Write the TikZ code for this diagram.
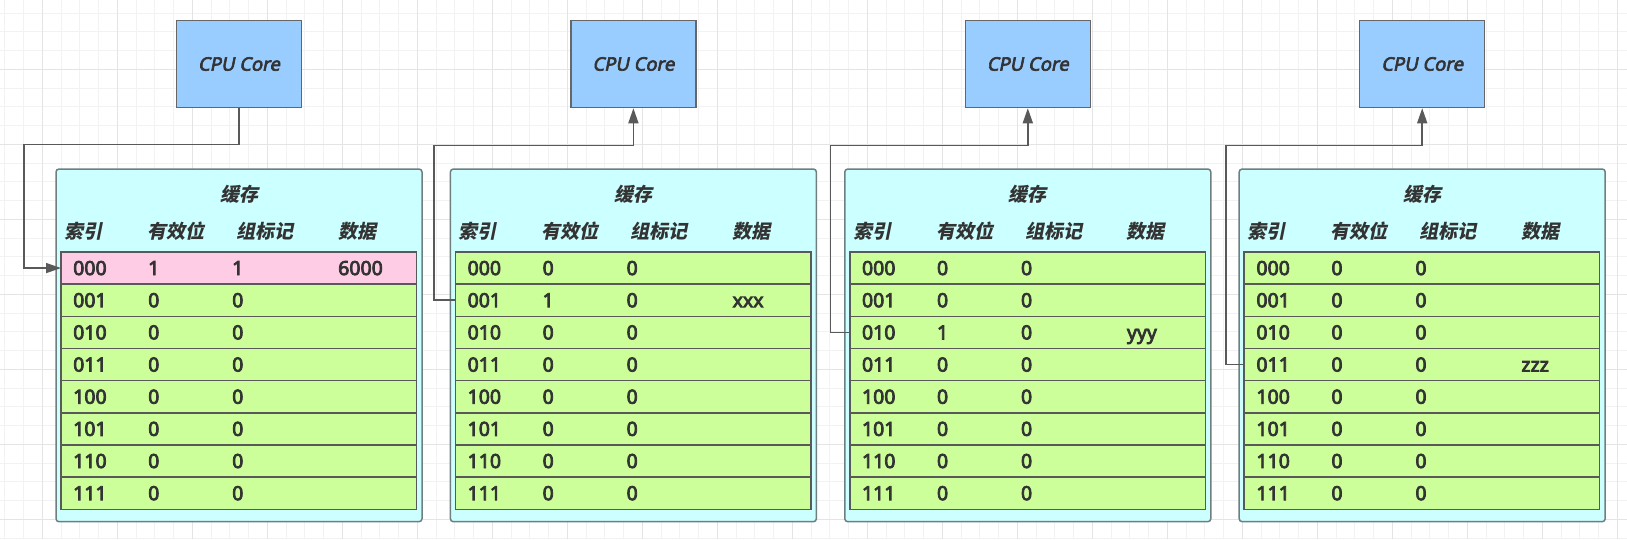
\documentclass[tikz,border=0pt]{standalone}
\usepackage{fontspec}
\setmainfont{Noto Sans}
\newfontfamily\cellface[FakeBold=4]{Noto Sans}
\newfontfamily\coreface[FakeBold=3.5, FakeSlant=0.2]{Noto Sans}
\newfontfamily\cjk[FakeSlant=0.2]{Noto Sans CJK SC}
\usepackage{tikz}
\usetikzlibrary{positioning, arrows.meta, calc}
\definecolor{gridMinor}{HTML}{F2F2F2}
\definecolor{gridMajor}{HTML}{E4E4E4}
\definecolor{coreFill}{HTML}{99CCFF}
\definecolor{cacheFill}{HTML}{CCFFFF}
\definecolor{cacheEdge}{HTML}{6F7F80}
\definecolor{lineFill}{HTML}{CCFF99}
\definecolor{hitFill}{HTML}{FFCCE6}
\definecolor{ink}{HTML}{333333}
\tikzstyle{core}=[draw=black!60, fill=coreFill, line width=1.5pt, inner sep=0pt,
  minimum width=125pt, minimum height=87pt, text=ink,
  font=\coreface\fontsize{18.5}{20}\selectfont]
\tikzstyle{cacheBox}=[draw=cacheEdge, fill=cacheFill, line width=1.5pt, rounded corners=3pt,
  minimum width=366pt, minimum height=352.7pt, inner sep=0pt]
\tikzstyle{cacheLine}=[draw=black!65, line width=1.5pt, inner sep=0pt, outer sep=0pt,
  minimum width=355.5pt, minimum height=32.16pt]
\tikzstyle{cell}=[anchor=base west, inner sep=0pt, text=ink,
  font=\cellface\fontsize{19.5}{20}\selectfont]
\tikzstyle{head}=[inner sep=0pt, text=ink, font=\cjk\bfseries\fontsize{19}{20}\selectfont]
\tikzstyle{link}=[-{Triangle[length=15pt,width=10pt]}, line width=1.5pt, draw=black!65]
\begin{document}
\begin{tikzpicture}[x=1pt, y=-1pt]
  \useasboundingbox (0,0) rectangle (1627,539);
  \fill[white] (0,0) rectangle (1627,539);
  % background grid
  \foreach \i in {0,...,86}
    \draw[gridMinor, line width=1pt] ({4.8+18.75*\i},0) -- ({4.8+18.75*\i},539);
  \foreach \j in {0,...,28}
    \draw[gridMinor, line width=1pt] (0,{13.05+18.75*\j}) -- (1627,{13.05+18.75*\j});
  \foreach \i in {0,...,21}
    \draw[gridMajor, line width=1pt] ({42.3+75*\i},0) -- ({42.3+75*\i},539);
  \foreach \j in {0,...,6}
    \draw[gridMajor, line width=1pt] (0,{69.3+75*\j}) -- (1627,{69.3+75*\j});

  % four caches, each with its core
  \foreach \k/\hit/\vbit/\tbit/\dval/\hitcol in
      {1/0/1/1/6000/hitFill, 2/1/1/0/xxx/lineFill, 3/2/1/0/yyy/lineFill, 4/3/0/0/zzz/lineFill} {
    \node[cacheBox] (cache\k) at ({239+394.4*(\k-1)},345.35) {};
    \node[core, above=60pt of cache\k] (cpu\k) {CPU Core};
    \node[head] (title\k) at ($(cache\k.north)+(0,26)$) {缓存};
    \node[head] (idx\k) at ($(cache\k.north)+(-155.7,62.7)$) {索引};
    \node[head] (valid\k) at ($(cache\k.north)+(-63,62.7)$) {有效位};
    \node[head] (tag\k) at ($(cache\k.north)+(26,62.7)$) {组标记};
    \node[head] (data\k) at ($(cache\k.north)+(118,62.7)$) {数据};
    \foreach \i/\idx in {0/000,1/001,2/010,3/011,4/100,5/101,6/110,7/111} {
      \ifnum\i=\hit
        \def\cv{\vbit}\def\ct{\tbit}\def\cd{\dval}\def\cf{\hitcol}
      \else
        \def\cv{0}\def\ct{0}\def\cd{}\def\cf{lineFill}
      \fi
      \node[cacheLine, fill=\cf] (r\k-\i) at ($(cache\k.north)+(-0.25,99.8+32.16*\i)$) {};
      \node[cell] at ($(r\k-\i.west)+(12,7)$) {\idx};
      \node[cell] at ($(r\k-\i.west)+(87,7)$) {\cv};
      \node[cell] at ($(r\k-\i.west)+(171,7)$) {\ct};
      \node[cell] at ($(r\k-\i.west)+(277,7)$) {\cd};
    }
  }

  % core 1 writes, the other lines go up to their cores
  \draw[link] (cpu1.south) -- ++(0,36) -| ($(r1-0.west)+(-37,0)$) -- (r1-0.west);
  \foreach \k/\i/\dx in {2/1/-21.3, 3/2/-19.3, 4/3/-18.3}
    \draw[link] (r\k-\i.west) -- ++(\dx,0) |- ($(cpu\k.south)+(0,37)$) -- (cpu\k.south);
\end{tikzpicture}
\end{document}
